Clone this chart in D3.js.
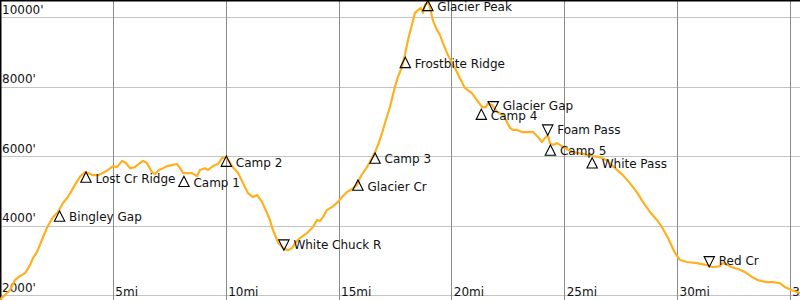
<!DOCTYPE html>
<html>
<head>
<meta charset="utf-8">
<script src="https://cdn.jsdelivr.net/npm/d3@7"></script>
<style>
  body { margin: 0; background: #fff; }
  svg { display: block; font-family: "DejaVu Sans", sans-serif; font-size: 12px; }
</style>
</head>
<body>
<div id="chart"></div>
<script>
// trail profile, miles along the route and elevation in feet
const profileMiles = [
  0.00, 0.22, 0.44, 0.66, 0.89, 1.11, 1.33, 1.46, 1.64, 1.77, 1.91, 2.08, 2.22, 2.35, 2.57, 2.79,
  3.01, 3.19, 3.32, 3.54, 3.77, 3.90, 4.12, 4.34, 4.56, 4.79, 5.01, 5.18, 5.41, 5.58, 5.76, 5.98,
  6.20, 6.34, 6.51, 6.73, 6.87, 7.04, 7.22, 7.40, 7.62, 7.84, 7.98, 8.11, 8.29, 8.51, 8.73, 8.86,
  9.08, 9.22, 9.44, 9.66, 9.84, 9.97, 10.10, 10.32, 10.55, 10.77, 10.99, 11.21, 11.39, 11.61, 11.83, 11.96,
  12.05, 12.18, 12.32, 12.54, 12.76, 12.94, 13.07, 13.29, 13.60, 13.87, 14.05, 14.18, 14.31, 14.49, 14.71, 14.93,
  15.15, 15.37, 15.60, 15.82, 15.95, 16.08, 16.26, 16.39, 16.62, 16.75, 16.93, 17.06, 17.28, 17.50, 17.63, 17.81,
  17.94, 18.08, 18.25, 18.39, 18.52, 18.65, 18.74, 18.83, 18.96, 19.05, 19.18, 19.36, 19.50, 19.63, 19.81, 20.03,
  20.25, 20.38, 20.60, 20.91, 21.13, 21.36, 21.53, 21.62, 21.80, 22.02, 22.29, 22.46, 22.60, 22.73, 22.91, 23.13,
  23.35, 23.62, 23.84, 24.01, 24.15, 24.28, 24.37, 24.50, 24.68, 24.81, 25.03, 25.39, 25.83, 26.23, 26.58, 26.89,
  27.25, 27.60, 27.91, 28.22, 28.49, 28.80, 29.11, 29.33, 29.60, 29.91, 30.13, 30.44, 30.88, 31.33, 31.59, 31.90,
  32.03, 32.26, 32.43, 32.70, 33.01, 33.32, 33.58, 33.98, 34.25, 34.56, 34.78, 35.09, 35.31, 35.45
];
const profileFeet = [
  1880, 2010, 2150, 2440, 2560, 2640, 2870, 3070, 3250, 3450, 3680, 3940, 4110, 4250, 4400, 4660,
  4830, 5030, 5180, 5410, 5550, 5520, 5460, 5460, 5520, 5610, 5720, 5690, 5870, 5810, 5660, 5690,
  5810, 5870, 5810, 5550, 5490, 5610, 5660, 5720, 5750, 5780, 5660, 5520, 5520, 5520, 5430, 5610,
  5660, 5610, 5720, 5780, 5950, 5980, 5890, 5690, 5520, 5230, 4940, 4830, 4890, 4690, 4370, 4170,
  3970, 3740, 3530, 3360, 3300, 3360, 3500, 3650, 3790, 3970, 4170, 4140, 4250, 4460, 4540, 4660,
  4830, 4970, 5060, 5180, 5380, 5520, 5690, 5840, 6120, 6330, 6670, 6960, 7420, 8000, 8280, 8570,
  8920, 9350, 9780, 10130, 10210, 10270, 10130, 10360, 10440, 10300, 9920, 9640, 9490, 9260, 8970, 8690,
  8430, 8250, 7970, 7820, 7620, 7420, 7420, 7530, 7480, 7280, 7190, 6990, 6820, 6760, 6760, 6700,
  6700, 6700, 6560, 6410, 6530, 6610, 6380, 6330, 6380, 6330, 6240, 6120, 6070, 6010, 5980, 5890,
  5660, 5460, 5230, 4970, 4690, 4400, 4170, 3970, 3650, 3220, 3020, 2960, 2930, 2870, 2810, 2840,
  2930, 2870, 2810, 2760, 2670, 2530, 2440, 2380, 2380, 2350, 2240, 2150, 2100, 2070
];

// waypoints: up = peak/pass marker, down = low point marker
const waypointNames = ["Bingley Gap", "Lost Cr Ridge", "Camp 1", "Camp 2", "White Chuck R", "Glacier Cr",
  "Camp 3", "Frostbite Ridge", "Glacier Peak", "Glacier Gap", "Camp 4", "Foam Pass", "Camp 5", "White Pass", "Red Cr"];
const waypointMiles = [2.64, 3.81, 8.15, 10.03, 12.58, 15.86, 16.62, 17.96, 18.96, 21.86, 21.33, 24.27, 24.39, 26.24, 31.43];
const waypointFeet = [4430, 5550, 5430, 6010, 3300, 5320, 6100, 8850, 10490, 7280, 7360, 6610, 6330, 5960, 2820];
const waypointKind = ["up", "up", "up", "up", "down", "up", "up", "up", "up", "down", "up", "down", "up", "up", "down"];

const mileTicks = [5, 10, 15, 20, 25, 30, 35];
const feetTicks = [2000, 4000, 6000, 8000, 10000];

const width = 800, height = 300;

const svg = d3.select('#chart')
  .append('svg')
  .attr('width', width)
  .attr('height', height);

const x = d3.scaleLinear().domain([0, 35.45]).range([0, width]);
const y = d3.scaleLinear().domain([1867, 10500]).range([height, 0]);

// grid
svg.append('g')
  .selectAll('line')
  .data(feetTicks)
  .join('line')
  .attr('x1', 0).attr('x2', width)
  .attr('y1', d => Math.round(y(d)) + 0.5)
  .attr('y2', d => Math.round(y(d)) + 0.5)
  .attr('stroke', '#c4c4c4');

svg.append('g')
  .selectAll('line')
  .data(mileTicks)
  .join('line')
  .attr('x1', d => Math.round(x(d)) + 0.5)
  .attr('x2', d => Math.round(x(d)) + 0.5)
  .attr('y1', 0).attr('y2', height)
  .attr('stroke', '#8c8c8c');

// tick labels sit inside the plot
svg.append('g')
  .selectAll('text')
  .data(feetTicks)
  .join('text')
  .attr('x', 2)
  .attr('y', d => y(d) - 3.5)
  .attr('fill', '#111')
  .text(d => d + "'");

svg.append('g')
  .selectAll('text')
  .data(mileTicks)
  .join('text')
  .attr('x', d => x(d) + 2.5)
  .attr('y', 296)
  .attr('fill', '#111')
  .text(d => d + 'mi');

// frame, only top and left fall inside the window
svg.append('line')
  .attr('x1', 0).attr('x2', width).attr('y1', 0.75).attr('y2', 0.75)
  .attr('stroke', '#000').attr('stroke-width', 1.5);
svg.append('line')
  .attr('x1', 0.75).attr('x2', 0.75).attr('y1', 0).attr('y2', height)
  .attr('stroke', '#000').attr('stroke-width', 1.5);

// elevation profile
const profile = d3.zip(profileMiles, profileFeet);
const line = d3.line()
  .x(d => x(d[0]))
  .y(d => y(d[1]));

svg.append('path')
  .datum(profile)
  .attr('d', line)
  .attr('fill', 'none')
  .attr('stroke', '#ffb020')
  .attr('stroke-width', 2.2)
  .attr('stroke-linejoin', 'round');

// waypoint markers
const waypoints = waypointNames.map((name, i) => ({
  name: name,
  px: x(waypointMiles[i]),
  py: y(waypointFeet[i]),
  up: waypointKind[i] === 'up'
}));

const marks = svg.append('g')
  .selectAll('g')
  .data(waypoints)
  .join('g');

marks.append('path')
  .attr('d', d => {
    let h = d.up ? 10.3 : -10.3;
    return 'M' + d.px + ',' + d.py +
      'L' + (d.px - 5.2) + ',' + (d.py + h) +
      'L' + (d.px + 5.2) + ',' + (d.py + h) + 'Z';
  })
  .attr('fill', 'none')
  .attr('stroke', '#000')
  .attr('stroke-width', 1.1);

marks.append('text')
  .attr('x', d => d.px + 9.5)
  .attr('y', d => d.up ? d.py + 10.5 : d.py - 1.5)
  .attr('fill', '#111')
  .text(d => d.name);
</script>
</body>
</html>
